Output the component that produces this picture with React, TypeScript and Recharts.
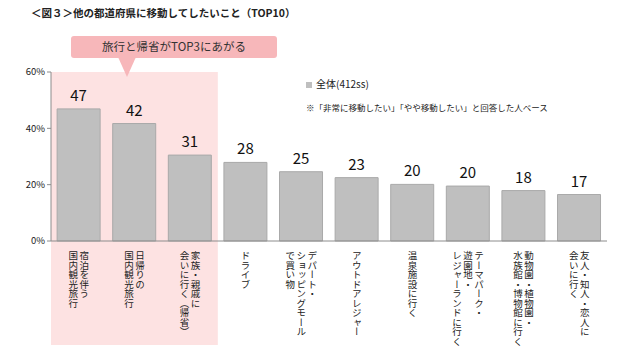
import React from 'react';
import { BarChart, Bar, XAxis, YAxis, Legend, LabelList, ReferenceArea } from 'recharts';

const categories = [
  '宿泊を伴う\n国内観光旅行',
  '日帰りの\n国内観光旅行',
  '家族・親戚に\n会いに行く（帰省）',
  'ドライブ',
  'デパート・\nショッピングモール\nで買い物',
  'アウトドアレジャー',
  '温泉施設に行く',
  'テーマパーク・\n遊園地・\nレジャーランドに行く',
  '動物園・植物園・\n水族館・博物館に行く',
  '友人・知人・恋人に\n会いに行く',
];
const values = [46.9, 41.7, 30.5, 27.9, 24.6, 22.5, 20.1, 19.5, 17.9, 16.5];
const yTicks = [0, 20, 40, 60];
const seriesName = '全体(412ss)';
const title = '＜図３＞他の都道府県に移動してしたいこと（TOP10）';
const note = '※「非常に移動したい」「やや移動したい」と回答した人ベース';
const callout = '旅行と帰省がTOP3にあがる';

const data = categories.map((name, i) => ({ name, value: values[i] }));

const FONT = '"Noto Sans CJK JP", "Noto Sans", sans-serif';

const VerticalTick = (props: any) => {
  const { x, y, payload } = props;
  const lines = String(payload.value).split('\n');
  const n = lines.length;
  return (
    <g>
      {lines.map((line, i) => (
        <text
          key={i}
          x={x + ((n - 1) / 2 - i) * 11}
          y={y + 2}
          fontSize={9.5}
          fill="#222"
          fontFamily={FONT}
          textAnchor="start"
          style={{ writingMode: 'vertical-rl' }}
        >
          {line}
        </text>
      ))}
    </g>
  );
};

// pink highlight + callout bubble over the top 3
const Highlight = (p: any) => {
  const { x, y, width, height } = p;
  const tipX = x + 76;
  return (
    <g>
      <rect x={x} y={y} width={width} height={height + 104} fill="#fde2e2" />
      <rect x={x + 20} y={y - 36} width={206} height={22} rx={3} fill="#f7b7ba" />
      <path d={`M${tipX - 9},${y - 15} L${tipX + 9},${y - 15} L${tipX},${y + 5} Z`} fill="#f7b7ba" />
      <text x={x + 123} y={y - 21} textAnchor="middle" fontSize={11.5} fill="#333" fontFamily={FONT}>
        {callout}
      </text>
    </g>
  );
};

export default function App() {
  return (
    <div style={{ position: 'absolute', left: 0, top: 0, width: 640, height: 355, background: '#fff', fontFamily: FONT }}>
      <div style={{ position: 'absolute', left: 31, top: 5, fontSize: 10.5, fontWeight: 'bold', color: '#222', whiteSpace: 'nowrap' }}>
        {title}
      </div>
      <div style={{ position: 'absolute', left: 306, top: 101, fontSize: 8.5, color: '#222', whiteSpace: 'nowrap' }}>
        {note}
      </div>
      <BarChart width={640} height={355} data={data} margin={{ top: 72, right: 33, bottom: 0, left: 0 }} barCategoryGap="11%">
        <ReferenceArea x1={categories[0]} x2={categories[2]} y1={0} y2={60} ifOverflow="visible" shape={<Highlight />} />
        <XAxis
          dataKey="name"
          interval={0}
          height={114}
          tick={<VerticalTick />}
          tickLine={false}
          axisLine={{ stroke: '#8c8c8c' }}
        />
        <YAxis
          domain={[0, 60]}
          ticks={yTicks}
          width={51}
          tickFormatter={(v) => `${v}%`}
          tick={{ fontSize: 9.5, fill: '#222', fontFamily: FONT }}
          tickLine={{ stroke: '#8c8c8c' }}
          tickSize={4}
          axisLine={{ stroke: '#8c8c8c' }}
        />
        <Legend
          layout="horizontal"
          verticalAlign="middle"
          align="center"
          iconType="square"
          iconSize={6}
          wrapperStyle={{ position: 'absolute', top: 76, left: 306, width: 'auto', fontSize: 10, fontFamily: FONT }}
          formatter={(v) => <span style={{ color: '#222' }}>{v}</span>}
        />
        <Bar dataKey="value" name={seriesName} fill="#bfbfbf" stroke="#a9a9a9" strokeWidth={1} isAnimationActive={false}>
          <LabelList
            dataKey="value"
            position="top"
            offset={8}
            formatter={(v: any) => Math.round(Number(v))}
            style={{ fontSize: 15, fill: '#111', fontFamily: FONT }}
          />
        </Bar>
      </BarChart>
    </div>
  );
}
